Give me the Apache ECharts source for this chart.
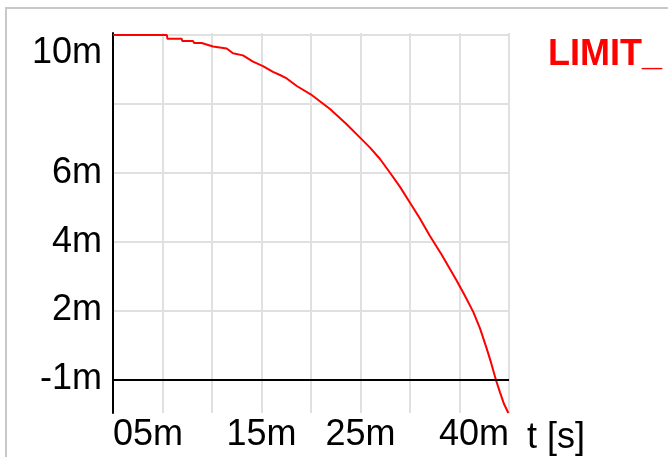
<!DOCTYPE html>
<html>
<head>
<meta charset="utf-8">
<script src="https://cdn.jsdelivr.net/npm/echarts@6/dist/echarts.min.js"></script>
<style>html,body{margin:0;padding:0;background:#fff}#c{width:668px;height:457px}</style>
</head>
<body>
<div id="c"></div>
<script>
// Time values (ms) and LIMIT_ values (m-units)
const tValues = [0, 5.45, 5.5, 6.94, 7.0, 8.08, 8.2, 8.96, 10.1, 11.48, 12.12, 13.13, 14.14, 15.15, 16.16, 16.87, 17.55, 18.56, 19.97, 21.92, 23.6, 24.95, 25.96, 26.97, 27.98, 28.99, 30.0, 31.0, 32.0, 33.2, 34.65, 35.56, 36.4, 37.07, 37.75, 38.18, 38.69, 39.09, 39.5, 39.93];
const limitValues = [10.0, 10.0, 9.89, 9.89, 9.83, 9.83, 9.77, 9.77, 9.67, 9.61, 9.47, 9.41, 9.23, 9.10, 8.93, 8.84, 8.74, 8.52, 8.28, 7.85, 7.41, 7.02, 6.73, 6.40, 6.0, 5.59, 5.13, 4.67, 4.17, 3.62, 2.90, 2.42, 1.95, 1.48, 0.89, 0.49, -0.03, -0.38, -0.72, -0.98];
const seriesName = 'LIMIT_';

// Tick values and their labels
const yTickValues = [0, 2, 4, 6, 8, 10];
const yTickLabels = ['-1m', '2m', '4m', '6m', '', '10m'];
const xTickValues = [0, 5, 10, 15, 20, 25, 30, 35, 40];
const xTickLabels = ['05m', '', '', '15m', '', '25m', '', '', '40m'];
const xAxisName = 't [s]';
const zeroLine = [0];

const FONT = 'Liberation Sans, Arial, sans-serif';
const chart = echarts.init(document.getElementById('c'), null, {renderer: 'canvas'});

const data = tValues.map((t, i) => [t, limitValues[i]]);

chart.setOption({
  animation: false,
  backgroundColor: '#ffffff',
  graphic: [{
    type: 'rect',
    shape: {x: 6, y: 8, width: 700, height: 500},
    style: {fill: 'none', stroke: '#c8c8c8', lineWidth: 2},
    silent: true
  }],
  legend: {
    data: [seriesName],
    left: 538,
    top: 32,
    icon: 'rect',
    itemWidth: 0,
    itemHeight: 0,
    textStyle: {color: '#ff0000', fontWeight: 'bold', fontSize: 36, fontFamily: FONT}
  },
  grid: {left: 113, right: 159, top: 33, bottom: 44, containLabel: false},
  xAxis: {
    type: 'value',
    min: 0,
    max: 40,
    interval: 5,
    name: xAxisName,
    nameLocation: 'end',
    nameGap: 18,
    nameTextStyle: {fontSize: 36, fontFamily: FONT, color: '#000', verticalAlign: 'top', padding: [41, 0, 0, 0]},
    axisLine: {show: false},
    axisTick: {show: false},
    splitLine: {show: true, lineStyle: {color: '#e0e0e0', width: 2}},
    axisLabel: {
      fontSize: 36, fontFamily: FONT, color: '#000', margin: 4,
      showMinLabel: true, showMaxLabel: true,
      alignMinLabel: 'left', alignMaxLabel: 'right',
      formatter: function (v) {
        const i = xTickValues.indexOf(Math.round(v * 100) / 100);
        return i >= 0 ? xTickLabels[i] : '';
      }
    }
  },
  yAxis: {
    type: 'value',
    min: -0.98,
    max: 10.06,
    axisLine: {show: true, lineStyle: {color: '#000', width: 2}},
    axisTick: {show: false, customValues: yTickValues},
    splitLine: {show: true, lineStyle: {color: '#e0e0e0', width: 2}},
    axisLabel: {
      customValues: yTickValues,
      fontSize: 36, fontFamily: FONT, color: '#000', margin: 11,
      verticalAlignMaxLabel: 'top',
      formatter: function (v) {
        const i = yTickValues.indexOf(Math.round(v * 100) / 100);
        return i >= 0 ? yTickLabels[i] : '';
      }
    }
  },
  series: [{
    name: seriesName,
    type: 'line',
    data: data,
    showSymbol: false,
    symbol: 'none',
    lineStyle: {color: '#ff0000', width: 2},
    itemStyle: {color: '#ff0000'},
    markLine: {
      silent: true,
      symbol: 'none',
      label: {show: false},
      lineStyle: {color: '#000', width: 2, type: 'solid'},
      data: zeroLine.map(v => ({yAxis: v}))
    }
  }]
});
</script>
</body>
</html>
